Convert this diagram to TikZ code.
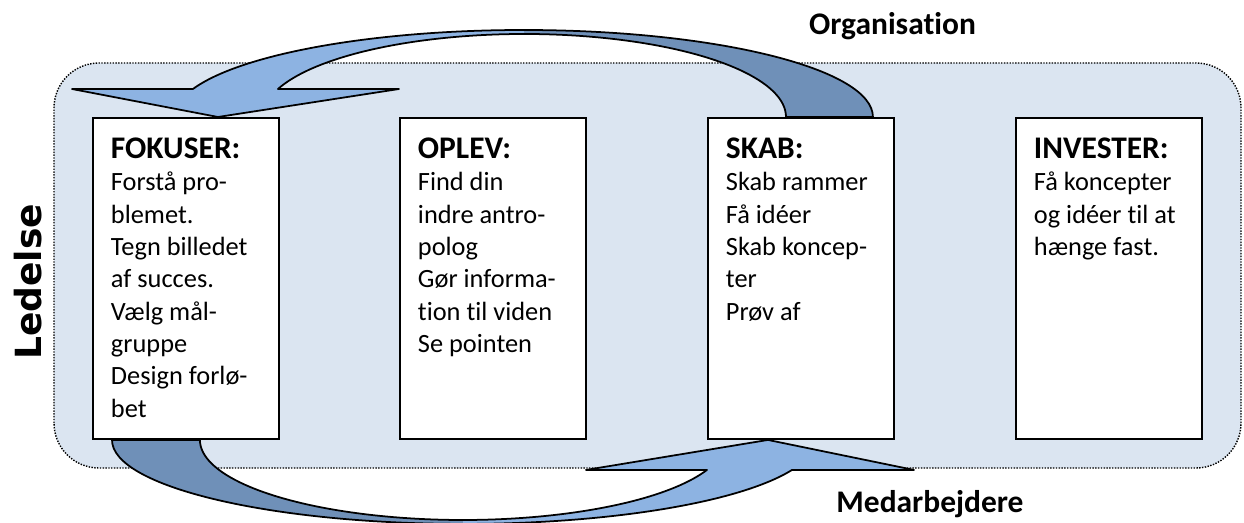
\documentclass[tikz,border=0pt]{standalone}
\usepackage{fontspec}
\setmainfont[Ligatures=NoCommon]{Carlito}
\newfontfamily\ledfont{DejaVu Sans}
\usetikzlibrary{calc}
\definecolor{bgblue}{RGB}{219,229,241}
\definecolor{arrlight}{RGB}{141,179,226}
\definecolor{arrdark}{RGB}{111,144,184}
\newcommand{\ORX}{6.986}
\newcommand{\IRX}{5.234}
\newcommand{\fasetekst}[2]{\parbox[t][5.62cm][t]{3cm}{\raggedright{\bfseries\fontsize{17.9}{18.4}\selectfont #1}\\#2}}
\tikzset{
    fase/.style={draw, fill=white, line width=1.1pt, anchor=north west, inner xsep=0.36cm, inner ysep=0.4cm, minimum width=3.72cm, minimum height=6.42cm, font=\fontsize{15}{18.4}\selectfont},
    lbl/.style={font=\bfseries\fontsize{17.9}{20}\selectfont, anchor=base, inner sep=0pt},
    pilkant/.style={draw=black, line width=1pt, line join=round}
}
\begin{document}
\begin{tikzpicture}
    \useasboundingbox (0,0) rectangle (24.88,10.44);
    % baggrund
    \filldraw[fill=bgblue, draw=black, line width=0.8pt, dash pattern=on 0.8pt off 0.8pt, rounded corners=0.9cm] (1.08,1.08) rectangle (24.82,9.18);

    \node[fase] (fokus) at (1.84,8.1) {\fasetekst{FOKUSER:}{Forstå pro-\\blemet.\\Tegn billedet\\af succes.\\Vælg mål-\\gruppe\\Design forlø-\\bet}};
    \node[fase] (oplev) at (7.98,8.1) {\fasetekst{OPLEV:}{Find din\\indre antro-\\polog\\Gør informa-\\tion til viden\\Se pointen}};
    \node[fase] (skab) at (14.14,8.1) {\fasetekst{SKAB:}{Skab rammer\\Få idéer\\Skab koncep-\\ter\\Prøv af}};
    \node[fase] (invest) at (20.3,8.1) {\fasetekst{INVESTER:}{Få koncepter\\og idéer til at\\hænge fast.}};

    % pil oeverst: SKAB -> FOKUSER
    \coordinate (tophale) at ($(skab.north east)+(-0.44,0)$);
    \coordinate (topspids) at ($(fokus.north)+(0.64,0)$);
    \fill[arrdark] (tophale) arc[start angle=0, end angle=90, x radius=\ORX, y radius=1.74] coordinate (toptop) -- ++(0,-0.08) arc[start angle=90, end angle=0, x radius=\IRX, y radius=1.66] -- cycle;
    \fill[arrlight] (toptop) arc[start angle=90, end angle=161.23, x radius=\ORX, y radius=1.74] -- ($(topspids)+(-2.92,0.56)$) -- (topspids) -- ($(topspids)+(3.62,0.56)$) -- ($(topspids)+(1.2,0.56)$) arc[start angle=160.28, end angle=90, x radius=\IRX, y radius=1.66] -- cycle;
    \draw[pilkant] (tophale) arc[start angle=0, end angle=161.23, x radius=\ORX, y radius=1.74] -- ($(topspids)+(-2.92,0.56)$) -- (topspids) -- ($(topspids)+(3.62,0.56)$) -- ($(topspids)+(1.2,0.56)$) arc[start angle=160.28, end angle=0, x radius=\IRX, y radius=1.66] -- cycle;

    % pil nederst: FOKUSER -> SKAB
    \coordinate (bundhale) at ($(fokus.south west)+(0.4,0)$);
    \coordinate (bundspids) at ($(skab.south)+(-0.66,0)$);
    \fill[arrdark] (bundhale) arc[start angle=180, end angle=270, x radius=7.032, y radius=1.68] coordinate (bundbund) -- ++(0,0.08) arc[start angle=270, end angle=180, x radius=5.262, y radius=1.6] -- cycle;
    \fill[arrlight] (bundbund) arc[start angle=270, end angle=339.1, x radius=7.032, y radius=1.68] -- ($(bundspids)+(2.92,-0.6)$) -- (bundspids) -- ($(bundspids)+(-3.64,-0.6)$) -- ($(bundspids)+(-1.22,-0.6)$) arc[start angle=338, end angle=270, x radius=5.262, y radius=1.6] -- cycle;
    \draw[pilkant] (bundhale) arc[start angle=180, end angle=339.1, x radius=7.032, y radius=1.68] -- ($(bundspids)+(2.92,-0.6)$) -- (bundspids) -- ($(bundspids)+(-3.64,-0.6)$) -- ($(bundspids)+(-1.22,-0.6)$) arc[start angle=338, end angle=180, x radius=5.262, y radius=1.6] -- cycle;

    \node[lbl] (org) at (17.85,9.74) {Organisation};
    \node[lbl] (medarb) at (18.6,0.2) {Medarbejdere};
    \node[font=\ledfont\bfseries\fontsize{20.5}{24}\selectfont, rotate=90] (ledelse) at (0.56,4.8) {Ledelse};
\end{tikzpicture}
\end{document}
